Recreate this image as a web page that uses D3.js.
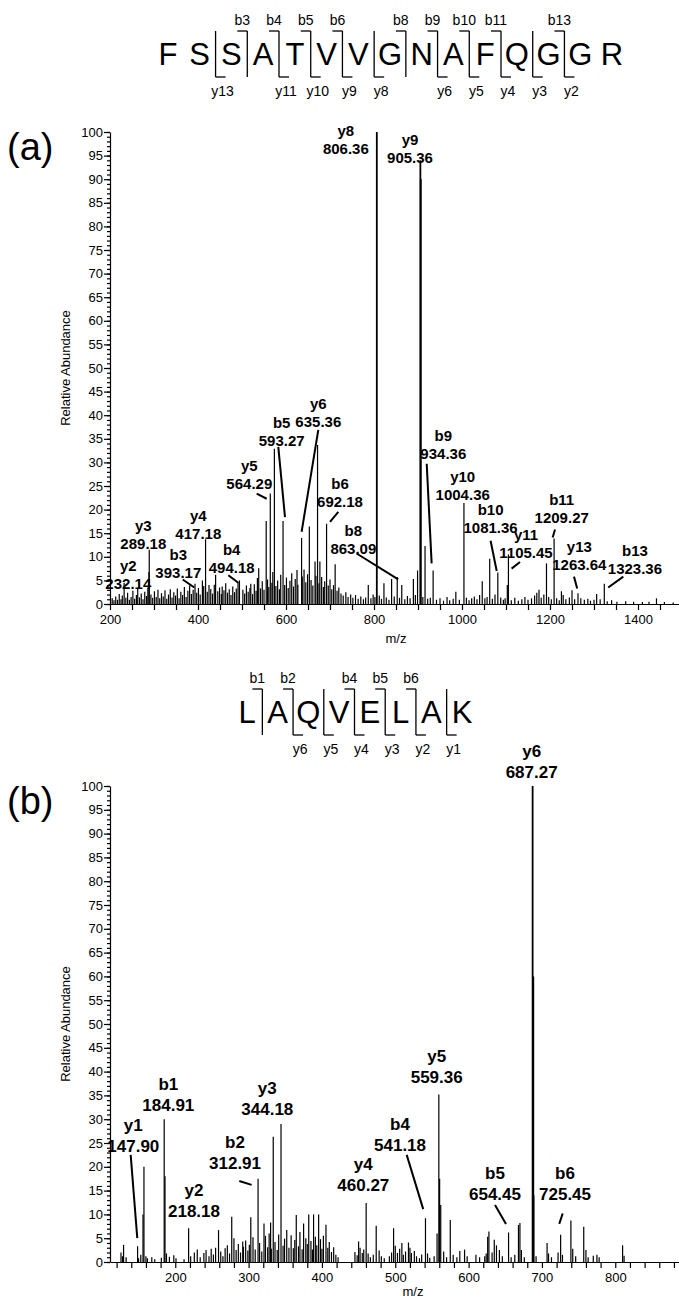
<!DOCTYPE html>
<html><head><meta charset="utf-8">
<script src="https://cdn.jsdelivr.net/npm/d3@7"></script>
<style>
body{margin:0;background:#fff;}
svg{display:block;font-family:"Liberation Sans",Arial,Helvetica,sans-serif;}
</style></head><body>
<script>
// ---------- DATA ----------
const seqA = ["F","S","S","A","T","V","V","G","N","A","F","Q","G","G","R"];
const bIonsA = [3,4,5,6,8,9,10,11,13];
const yIonsA = [13,11,10,9,8,6,5,4,3,2];
const seqB = ["L","A","Q","V","E","L","A","K"];
const bIonsB = [1,2,4,5,6];
const yIonsB = [6,5,4,3,2,1];

const xTicksA = [200,400,600,800,1000,1200,1400];
const xTicksB = [200,300,400,500,600,700,800];
const yTicks = [0,5,10,15,20,25,30,35,40,45,50,55,60,65,70,75,80,85,90,95,100];

const peaksA = [
[232.1,4.5],[288.5,6.8],[289.2,11.5],[393.2,4.3],[410,5.0],[417.2,13.7],[425,4.0],[440,6.2],[455,3.7],
[494.2,5.0],[520,4.3],[538,7.6],[555,17.6],[564.3,23.4],[573.6,32.9],[593.3,17.6],[635.4,14.0],[641,7.3],
[653,16.4],[666,9.0],[671.7,33.7],[677,9.0],[692.2,17.0],[711.7,8.4],[787,4.0],[806.4,100],[822.6,4.4],
[840,5.3],[852.8,5.7],[863.1,4.0],[889.5,5.3],[899,7.1],[905.4,94],[906.3,90],[916,12.3],[934.4,7.1],
[986,2.6],[1004.4,21.4],[1046,4.8],[1063,9.6],[1081.4,6.7],[1103,4.0],[1105.5,10.5],[1175,3.0],[1192,8.6],
[1209.3,13.9],[1230,1.9],[1250,2.9],[1263.6,2.3],[1306,2.1],[1323.4,4.3],[1442,1.2]
];
const noiseA = [
[205,1.2],[209,0.8],[213,1.6],[217,0.9],[221,2.1],[225,1.0],[228,1.8],[236,1.3],[240,2.4],[244,0.9],[248,1.5],
[252,2.8],[256,1.1],[260,1.9],[263,3.2],[267,1.4],[271,2.2],[275,1.0],[279,2.6],[283,1.7],[286,3.5],[293,2.0],
[297,1.3],[301,2.7],[305,1.5],[309,3.0],[313,1.2],[317,2.3],[321,1.6],[325,2.9],[329,1.1],[333,2.0],[337,3.1],
[341,1.4],[345,2.5],[349,1.8],[353,3.3],[357,1.2],[361,2.6],[365,1.9],[369,3.6],[373,1.5],[377,2.8],[381,3.9],
[385,2.1],[389,3.0],[397,2.4],[401,3.4],[405,2.0],[413,3.8],[421,2.6],[429,3.2],[433,2.2],[437,4.1],[445,2.7],
[449,3.5],[453,2.1],[459,2.9],[463,4.4],[467,2.4],[471,3.1],[475,1.9],[479,3.7],[483,2.5],[487,3.3],[491,4.6],
[502,3.0],[506,2.2],[510,3.9],[514,2.6],[518,3.4],[524,2.1],[528,4.2],[532,2.8],[535,5.5],[542,3.3],[546,4.8],
[550,3.0],[558,5.2],[561,3.6],[568,4.5],[570,6.8],[577,3.8],[581,5.0],[585,3.1],[588,6.2],[597,4.0],[601,5.6],
[605,3.4],[609,4.9],[613,6.5],[617,3.7],[621,5.3],[625,7.2],[627,4.1],[637,5.8],[645,4.6],[649,6.3],[657,5.1],
[661,3.9],[668,6.0],[675,4.4],[681,5.7],[685,3.6],[688,4.8],[696,3.9],[700,5.2],[704,3.1],[708,4.0],[716,2.8],
[720,3.5],[725,2.2],[730,1.8],[736,2.5],[741,1.5],[747,2.0],[752,1.3],[758,1.9],[764,1.1],[770,1.6],[776,1.0],
[781,1.4],[793,1.2],[798,2.0],[802,1.5],[812,1.8],[817,1.1],[828,1.4],[834,0.9],[846,1.6],[858,1.3],[870,1.0],
[876,1.7],[882,1.2],[894,1.9],[911,1.5],[922,1.1],[928,1.3],[942,0.9],[950,1.2],[958,0.7],[966,1.5],[972,0.8],
[980,1.1],[994,0.9],[1010,1.3],[1016,0.8],[1022,1.2],[1028,1.6],[1034,1.0],[1040,1.9],[1052,1.2],[1057,1.5],
[1069,1.1],[1075,2.0],[1088,1.4],[1094,0.9],[1098,1.2],[1112,0.8],[1120,1.3],[1128,0.7],[1136,1.0],[1143,1.5],
[1150,0.9],[1158,1.2],[1165,1.8],[1170,2.4],[1180,1.3],[1186,2.0],[1197,1.5],[1203,1.0],[1215,1.2],[1221,0.8],
[1226,2.7],[1236,1.0],[1244,1.4],[1256,1.0],[1270,1.2],[1278,0.9],[1286,1.1],[1292,0.7],[1300,0.9],[1314,1.0],
[1330,0.6],[1340,0.8],[1352,0.5],[1372,0.6],[1390,0.5],[1410,0.4],[1425,0.5],[1460,0.4],[1480,0.3]
];
// label: ion, value text, label anchor (m/z, abundance), leader from/to (m/z, abundance)
const labelsA = [
{ion:"y2", val:"232.14", at:[241.6,4.4], lead:null},
{ion:"y3", val:"289.18", at:[275.7,12.9], lead:null},
{ion:"b3", val:"393.17", at:[355.2,6.6], lead:[[365.2,5.2],[391.6,3.5]]},
{ion:"y4", val:"417.18", at:[400.7,15.0], lead:null},
{ion:"b4", val:"494.18", at:[476.6,7.7], lead:[[468.9,6.1],[491.6,4.5]]},
{ion:"y5", val:"564.29", at:[516.6,25.6], lead:[[533.4,23.4],[556.1,22.3]]},
{ion:"b5", val:"593.27", at:[590.2,34.7], lead:[[582.5,33.3],[597.7,18.4]]},
{ion:"y6", val:"635.36", at:[673.4,38.7], lead:[[673.4,36.9],[635.5,15.3]]},
{ion:"b6", val:"692.18", at:[722.7,21.6], lead:[[718.9,19.5],[700,17.4]]},
{ion:"b8", val:"863.09", at:[753,11.8], lead:[[760.5,10.7],[855,5.2]]},
{ion:"y8", val:"806.36", at:[736,96.5], lead:null},
{ion:"y9", val:"905.36", at:[881.8,94.5], lead:null},
{ion:"b9", val:"934.36", at:[957.5,31.8], lead:[[919.8,29.7],[931,8.6]]},
{ion:"y10", val:"1004.36", at:[1001.6,23.2], lead:null},
{ion:"b10", val:"1081.36", at:[1065,16.2], lead:[[1065,13.4],[1078.9,7.0]]},
{ion:"y11", val:"1105.45", at:[1145.5,10.8], lead:[[1131.8,8.9],[1112.7,7.5]]},
{ion:"b11", val:"1209.27", at:[1226.6,18.3], lead:[[1211.4,15.8],[1206,14.1]]},
{ion:"y13", val:"1263.64", at:[1266.6,8.4], lead:[[1254.5,5.8],[1261.8,3.3]]},
{ion:"b13", val:"1323.36", at:[1393,7.5], lead:[[1366.6,5.8],[1332.3,3.5]]}
];

const peaksB = [
[129.5,3.6],[148.6,3.3],[156,10],[157.3,20],[184.9,30],[186,18],[218.2,7.1],[259,6.7],[277,9.5],[292,4.3],
[303,9.4],[312.9,17.5],[321,8.1],[330,8.3],[333.6,26.3],[344.2,29],[352,6.7],[365,9.9],[375,8.1],[382,10],
[388.6,10],[395.5,10],[405.5,7.8],[450,4.3],[460.3,12.4],[474,7.6],[497.7,7.1],[509,4.0],[518,4.1],[541.2,9.2],
[557,6.0],[559.4,35.2],[560.5,17.5],[562,12],[575,8.8],[594.5,2.6],[626,5.3],[627.7,6.4],[635,4.7],[654.5,6.2],
[668,7.8],[670,8.2],[687.3,100],[688.2,60],[689,14],[707,4.0],[725.5,5.7],[739.5,8.7],[757,7.4],[775,1.5],[810,3.5]
];
const noiseB = [
[126,2.0],[128,1.2],[133,1.0],[150,0.8],[153,1.5],[160,1.2],[162,0.8],[168,1.0],[172,0.6],[181,0.9],[188,1.8],
[192,1.1],[198,1.4],[201,0.8],[212,0.6],[221,1.2],[226,2.0],[230,2.6],[234,1.0],[239,1.9],[242,2.5],[246,1.2],
[249,2.8],[252,1.6],[255,3.0],[262,2.2],[265,1.2],[268,2.9],[271,3.5],[274,1.8],[280,5.0],[283,2.5],[286,3.8],
[289,2.0],[293,3.2],[296,4.5],[299,2.4],[301,3.6],[306,5.2],[309,2.6],[315,4.0],[318,2.2],[323,5.5],[326,3.1],
[328,6.0],[331,2.8],[336,4.2],[339,2.5],[341,5.8],[347,3.4],[349,4.9],[355,3.0],[358,5.6],[361,2.9],[363,4.6],
[368,3.3],[370,6.3],[373,2.7],[378,5.0],[380,3.8],[385,4.4],[387,2.6],[391,5.3],[393,3.5],[398,4.8],[400,2.8],
[402,5.5],[408,3.0],[410,4.2],[413,2.1],[416,3.1],[419,1.5],[422,1.0],[445,2.1],[448,1.4],[452,3.0],[455,1.9],
[457,2.6],[463,1.8],[466,1.0],[470,1.5],[478,2.4],[481,1.2],[485,0.8],[492,1.2],[495,2.0],[500,3.4],[503,1.9],
[506,2.8],[511,1.5],[514,2.2],[520,3.0],[522,1.9],[526,2.3],[529,1.2],[533,0.8],[536,1.6],[544,1.8],[547,0.9],
[553,1.2],[566,2.2],[570,1.0],[579,1.5],[584,1.0],[588,2.3],[598,1.2],[610,1.5],[615,1.0],[622,1.2],[624,1.8],
[632,2.0],[638,3.5],[642,2.5],[646,1.2],[658,1.0],[663,1.5],[672,2.5],[676,1.0],[692,1.2],[709,1.8],[713,1.0],
[722,2.0],[728,1.5],[742,2.8],[746,1.2],[760,2.5],[763,1.0],[770,1.3],[778,1.0],[812,1.3]
];
const labelsB = [
{ion:"y1", val:"147.90", at:[142.8,24.4], lead:[[139.2,22.5],[148.2,5.0]]},
{ion:"b1", val:"184.91", at:[190.5,33.0], lead:null},
{ion:"y2", val:"218.18", at:[225.5,10.8], lead:null},
{ion:"b2", val:"312.91", at:[281.5,20.9], lead:[[287.3,17.0],[304.1,16.2]]},
{ion:"y3", val:"344.18", at:[325.5,32.1], lead:null},
{ion:"y4", val:"460.27", at:[456.4,16.2], lead:null},
{ion:"b4", val:"541.18", at:[506.5,24.6], lead:[[515.6,22.5],[538.1,11.1]]},
{ion:"y5", val:"559.36", at:[556.5,38.8], lead:null},
{ion:"b5", val:"654.45", at:[636,14.4], lead:[[636,12.0],[651,8.0]]},
{ion:"b6", val:"725.45", at:[731.5,14.4], lead:[[728.3,10.2],[723.6,8.0]]},
{ion:"y6", val:"687.27", at:[686,103], lead:null}
];

// ---------- DRAW ----------
const W = 679, H = 1303;
const svg = d3.select("body").append("svg").attr("width", W).attr("height", H);

function header(seq, bIons, yIons, x0, x1, yTop, fontSize) {
  const n = seq.length;
  const xs = d3.scalePoint().domain(d3.range(n)).range([x0, x1]);
  const g = svg.append("g");
  const barTop = yTop + 11, base = yTop + 45, barBot = yTop + 57;
  g.selectAll("text.res").data(seq).join("text")
    .attr("x", (d, i) => xs(i)).attr("y", base)
    .attr("text-anchor", "middle").attr("font-size", fontSize).text(d => d);
  const cut = k => (xs(k - 1) + xs(k)) / 2;
  const sites = Array.from(new Set([...bIons, ...yIons.map(j => n - j)]));
  g.selectAll("line.bar").data(sites).join("line")
    .attr("x1", cut).attr("x2", cut).attr("y1", barTop).attr("y2", barBot)
    .attr("stroke", "#000").attr("stroke-width", 1.3);
  g.selectAll("line.bh").data(bIons).join("line")
    .attr("x1", k => cut(k) - 10).attr("x2", cut).attr("y1", barTop).attr("y2", barTop)
    .attr("stroke", "#000").attr("stroke-width", 1.3);
  g.selectAll("text.bl").data(bIons).join("text")
    .attr("x", k => cut(k) - 5).attr("y", yTop + 5)
    .attr("text-anchor", "middle").attr("font-size", 14).text(k => "b" + k);
  g.selectAll("line.yh").data(yIons).join("line")
    .attr("x1", j => cut(n - j)).attr("x2", j => cut(n - j) + 10).attr("y1", barBot).attr("y2", barBot)
    .attr("stroke", "#000").attr("stroke-width", 1.3);
  g.selectAll("text.yl").data(yIons).join("text")
    .attr("x", j => cut(n - j) + 7).attr("y", barBot + 19)
    .attr("text-anchor", "middle").attr("font-size", 14).text(j => "y" + j);
}

function panel(o) {
  const x = d3.scaleLinear().domain(o.xDomain).range([110, 682]);
  const y = d3.scaleLinear().domain([0, 100]).range([o.y0, o.y100]);
  const g = svg.append("g");
  const all = o.noise.concat(o.peaks);
  g.selectAll("line.pk").data(all).join("line")
    .attr("x1", d => x(d[0])).attr("x2", d => x(d[0]))
    .attr("y1", y(0)).attr("y2", d => y(d[1]))
    .attr("stroke", "#000").attr("stroke-width", d => d[1] > 50 ? 1.8 : 1.2);
  const yMinor = d3.range(0, 101, 1);
  g.append("g").attr("transform", "translate(110,0)")
    .call(d3.axisLeft(y).tickValues(yMinor).tickSize(3).tickSizeOuter(0).tickFormat(""))
    .call(s => s.select(".domain").remove());
  g.append("g").attr("transform", "translate(110,0)")
    .call(d3.axisLeft(y).tickValues(yTicks).tickSize(6).tickSizeOuter(0).tickPadding(1))
    .call(s => s.selectAll("text").attr("font-size", 13).attr("font-family", "Liberation Sans Narrow, Liberation Sans, Arial"));
  const xt = d3.range(o.xDomain[0] + ((o.minor - o.xDomain[0] % o.minor) % o.minor), o.xDomain[1] + 0.1, o.minor);
  g.append("g").attr("transform", `translate(0,${y(0)})`)
    .call(d3.axisBottom(x).tickValues(xt).tickSize(6).tickSizeOuter(0)
      .tickFormat(v => o.xLabels.includes(v) ? v : ""))
    .call(s => s.selectAll("text").attr("font-size", 13).attr("dy", "0.85em").attr("font-family", "Liberation Sans Narrow, Liberation Sans, Arial"));
  g.selectAll(".domain, .tick line").attr("stroke", "#000").attr("stroke-width", 1.2);
  g.append("text").attr("transform", `translate(70,${(y(0) + y(100)) / 2}) rotate(-90)`)
    .attr("text-anchor", "middle").attr("font-size", 13).text("Relative Abundance");
  g.append("text").attr("x", o.mzX).attr("y", y(0) + o.mzDy).attr("text-anchor", "middle")
    .attr("font-size", 13).text("m/z");
  g.append("text").attr("x", 7).attr("y", y(100) + 28).attr("font-size", 38).text(o.tag);
  g.selectAll("line.ld").data(o.labels.filter(d => d.lead)).join("line")
    .attr("x1", d => x(d.lead[0][0])).attr("y1", d => y(d.lead[0][1]))
    .attr("x2", d => x(d.lead[1][0])).attr("y2", d => y(d.lead[1][1]))
    .attr("stroke", "#000").attr("stroke-width", 2);
  const lg = g.selectAll("g.lb").data(o.labels).join("g")
    .attr("transform", d => `translate(${x(d.at[0])},${y(d.at[1])})`)
    .attr("font-weight", "bold").attr("font-size", o.lf).attr("text-anchor", "middle");
  lg.append("text").attr("y", o.lf * 0.36).text(d => d.val);
  lg.append("text").attr("y", o.lf * 0.36 - o.lh).text(d => d.ion);
}

header(seqA, bIonsA, yIonsA, 168, 612, 20, 31);
header(seqB, bIonsB, yIonsB, 247, 462, 678, 31);

panel({xDomain: [200, 1500], y0: 604, y100: 132, peaks: peaksA, noise: noiseA, labels: labelsA,
  minor: 50, xLabels: xTicksA, mzX: 396, mzDy: 39, tag: "(a)", lf: 15, lh: 18});
panel({xDomain: [111, 891], y0: 1262, y100: 786, peaks: peaksB, noise: noiseB, labels: labelsB,
  minor: 20, xLabels: xTicksB, mzX: 413, mzDy: 34, tag: "(b)", lf: 17, lh: 21});
</script></body></html>
